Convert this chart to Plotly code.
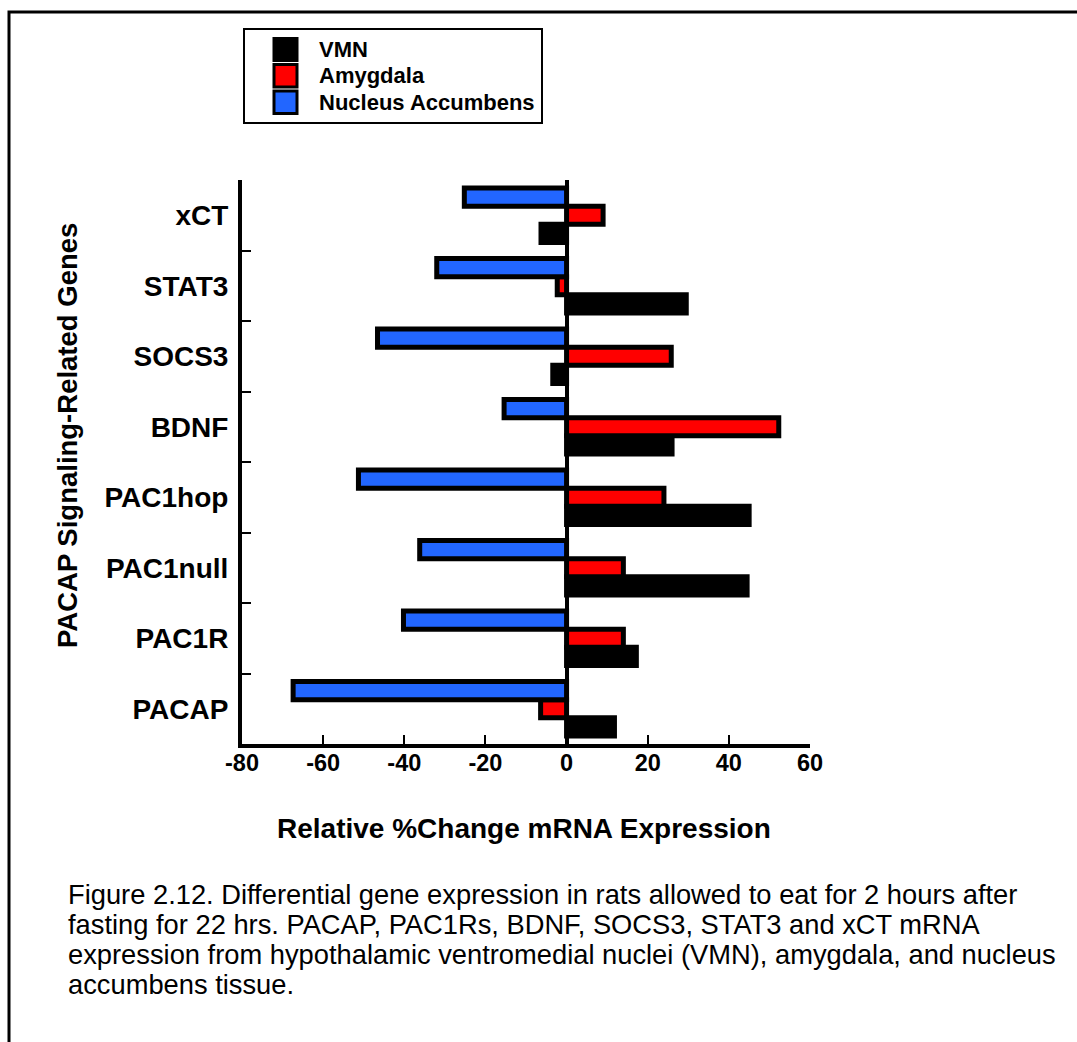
import plotly.graph_objects as go

# Genes (bottom to top on the category axis)
genes = ["PACAP", "PAC1R", "PAC1null", "PAC1hop", "BDNF", "SOCS3", "STAT3", "xCT"]

# Relative % change in mRNA expression per tissue
vmn = [11.8, 17.2, 44.5, 45.0, 26.0, -3.4, 29.5, -6.3]
amygdala = [-6.4, 14.0, 14.0, 24.0, 52.3, 25.8, -2.3, 9.0]
nucleus_accumbens = [-67.4, -40.2, -36.2, -51.3, -15.4, -46.6, -32.0, -25.2]

series_names = ["VMN", "Amygdala", "Nucleus Accumbens"]
series_colors = ["#000000", "#FF0000", "#2266FF"]

x_ticks = [-80, -60, -40, -20, 0, 20, 40, 60]

caption_lines = [
    "Figure 2.12. Differential gene expression in rats allowed to eat for 2 hours after",
    "fasting for 22 hrs. PACAP, PAC1Rs, BDNF, SOCS3, STAT3 and xCT mRNA",
    "expression from hypothalamic ventromedial nuclei (VMN), amygdala, and nucleus",
    "accumbens tissue.",
]

FONT = "Liberation Sans, Arial, Helvetica, sans-serif"
W, H = 1077, 1042
L, R, T, B = 242, 810, 180, 744


def fx(p):
    """pixel x -> paper x"""
    return (p - L) / (R - L)


def fy(p):
    """pixel y -> paper y"""
    return (B - p) / (B - T)


fig = go.Figure()
for name, vals, col in zip(series_names, [vmn, amygdala, nucleus_accumbens], series_colors):
    fig.add_trace(go.Bar(
        y=genes, x=vals, orientation="h", name=name,
        marker=dict(color=col, line=dict(color="#000000", width=5)),
        showlegend=False,
    ))

shapes = []
annotations = []

# outer frame of the figure panel
shapes.append(dict(type="rect", xref="paper", yref="paper",
                   x0=fx(9), x1=fx(1100), y0=fy(12), y1=fy(1070),
                   line=dict(color="#000000", width=3), fillcolor="rgba(0,0,0,0)"))

# legend box
shapes.append(dict(type="rect", xref="paper", yref="paper",
                   x0=fx(244), x1=fx(542), y0=fy(29), y1=fy(123),
                   line=dict(color="#000000", width=2), fillcolor="#FFFFFF"))
rows = [(37.5, 61.5), (63.5, 88), (90, 114.5)]
for (y0, y1), name, col in zip(rows, series_names, series_colors):
    shapes.append(dict(type="rect", xref="paper", yref="paper",
                       x0=fx(274), x1=fx(297), y0=fy(y0 + 1), y1=fy(y1 - 1),
                       line=dict(color="#000000", width=3), fillcolor=col))
    annotations.append(dict(xref="paper", yref="paper", x=fx(317), y=fy((y0 + y1) / 2),
                            text=name, showarrow=False, xanchor="left", yanchor="middle",
                            font=dict(family=FONT, size=22, color="#000000", weight="bold")))

# axis titles
annotations.append(dict(xref="paper", yref="paper", x=fx(524), y=fy(828),
                        text="Relative %Change mRNA Expression", showarrow=False,
                        xanchor="center", yanchor="middle",
                        font=dict(family=FONT, size=28, color="#000000", weight="bold")))
annotations.append(dict(xref="paper", yref="paper", x=fx(67), y=fy(436),
                        text="PACAP Signaling-Related Genes", showarrow=False, textangle=-90,
                        xanchor="center", yanchor="middle",
                        font=dict(family=FONT, size=27.5, color="#000000", weight="bold")))

# caption
for i, line in enumerate(caption_lines):
    annotations.append(dict(xref="paper", yref="paper", x=fx(66), y=fy(894 + 30 * i),
                            text=line, showarrow=False, xanchor="left", yanchor="middle",
                            font=dict(family=FONT, size=27.3, color="#000000")))

fig.update_layout(
    width=W, height=H,
    margin=dict(l=L, r=W - R, t=T, b=H - B, pad=0),
    paper_bgcolor="#FFFFFF", plot_bgcolor="#FFFFFF",
    barmode="group", bargap=0.23, bargroupgap=0,
    shapes=shapes, annotations=annotations,
    showlegend=False,
    xaxis=dict(
        range=[-80, 60], tickvals=x_ticks, ticktext=[str(v) for v in x_ticks],
        ticks="inside", ticklen=9, tickwidth=2, tickcolor="#000000",
        showline=True, linewidth=4, linecolor="#000000",
        zeroline=True, zerolinewidth=4, zerolinecolor="#000000",
        showgrid=False, ticklabelstandoff=-5,
        tickfont=dict(family=FONT, size=23.5, color="#000000", weight="bold"),
    ),
    yaxis=dict(
        type="category", categoryorder="array", categoryarray=genes,
        ticks="inside", tickson="boundaries", ticklen=9, tickwidth=2, tickcolor="#000000",
        showline=True, linewidth=4, linecolor="#000000",
        showgrid=False, zeroline=False, ticklabelstandoff=4,
        tickfont=dict(family=FONT, size=28, color="#000000", weight="bold"),
    ),
)

fig.write_html("out.html")
